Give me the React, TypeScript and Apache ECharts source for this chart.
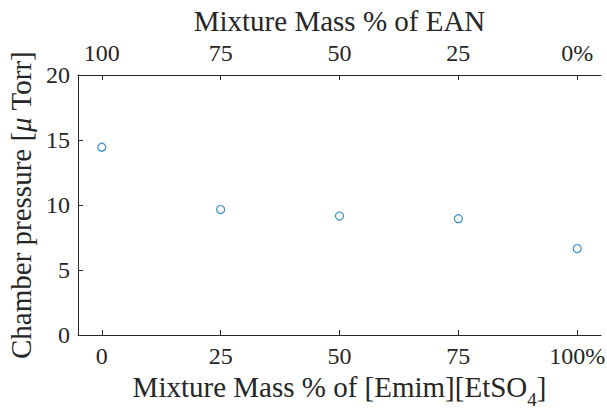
import React, { useEffect, useRef } from "react";
import * as echarts from "echarts";

const emimPercent = [0, 25, 50, 75, 100];
const pressure = [14.45, 9.65, 9.15, 8.95, 6.65];
const bottomTickValues = [0, 25, 50, 75, 100];
const bottomTickLabels = ["0", "25", "50", "75", "100%"];
const topTickLabels = ["100", "75", "50", "25", "0%"];
const yTitle = "Chamber pressure [{i|μ} Torr]";
const topTitle = "Mixture Mass % of EAN";
const bottomTitle = "{b|Mixture Mass % of [Emim][EtSO}{sub|4}{b|]}";

const FONT = "Liberation Serif";
const INK = "#262626";

export default function App() {
  const ref = useRef<HTMLDivElement>(null);
  useEffect(() => {
    if (!ref.current) return;
    const chart = echarts.init(ref.current, undefined, { renderer: "svg" });
    const labelStyle = { fontFamily: FONT, fontSize: 24, color: INK };
    chart.setOption({
      animation: false,
      backgroundColor: "#ffffff",
      textStyle: { fontFamily: FONT },
      grid: { left: 78, right: 6, top: 75, bottom: 76, containLabel: false, outerBoundsMode: "none" },
      xAxis: [
        {
          type: "value",
          position: "bottom",
          min: -5,
          max: 105,
          axisLine: { show: true, onZero: false, lineStyle: { color: INK, width: 1 } },
          axisTick: { show: true, inside: true, length: 5, customValues: bottomTickValues, lineStyle: { color: INK } },
          axisLabel: {
            ...labelStyle,
            margin: 9,
            customValues: bottomTickValues,
            formatter: (v: number) => bottomTickLabels[bottomTickValues.indexOf(v)] ?? "",
          },
          splitLine: { show: false },
          name: bottomTitle,
          nameLocation: "middle",
          nameGap: 33,
          nameTextStyle: {
            fontFamily: FONT,
            fontSize: 29,
            color: INK,
            rich: {
              b: { fontFamily: FONT, fontSize: 29, color: INK, lineHeight: 29, verticalAlign: "top" },
              sub: { fontFamily: FONT, fontSize: 19, color: INK, lineHeight: 19, verticalAlign: "top", padding: [17, 0, 0, 0] },
            },
          },
        },
        {
          type: "value",
          position: "top",
          min: -5,
          max: 105,
          axisLine: { show: true, onZero: false, lineStyle: { color: INK, width: 1 } },
          axisTick: { show: true, inside: true, length: 5, customValues: bottomTickValues, lineStyle: { color: INK } },
          axisLabel: {
            ...labelStyle,
            margin: 10,
            customValues: bottomTickValues,
            formatter: (v: number) => topTickLabels[bottomTickValues.indexOf(v)] ?? "",
          },
          splitLine: { show: false },
          name: topTitle,
          nameLocation: "middle",
          nameGap: 40,
          nameTextStyle: { fontFamily: FONT, fontSize: 29, color: INK },
        },
      ],
      yAxis: {
        type: "value",
        min: 0,
        max: 20,
        interval: 5,
        axisLine: { show: true, onZero: false, lineStyle: { color: INK, width: 1 } },
        axisTick: { show: true, inside: true, length: 5, lineStyle: { color: INK } },
        axisLabel: { ...labelStyle, margin: 8 },
        splitLine: { show: false },
        name: yTitle,
        nameLocation: "middle",
        nameGap: 31,
        nameTextStyle: {
          fontFamily: FONT,
          fontSize: 29,
          color: INK,
          rich: {
            i: { fontFamily: FONT, fontSize: 29, color: INK, fontStyle: "italic" },
          },
        },
      },
      series: [
        {
          type: "scatter",
          xAxisIndex: 0,
          data: emimPercent.map((x, i) => [x, pressure[i]]),
          symbol: "circle",
          symbolSize: 8,
          itemStyle: { color: "rgba(0,0,0,0)", borderColor: "#0072BD", borderWidth: 1.2 },
        },
      ],
    });
    return () => chart.dispose();
  }, []);
  return <div ref={ref} style={{ width: 607, height: 411, position: "absolute", left: 0, top: 0 }} />;
}
